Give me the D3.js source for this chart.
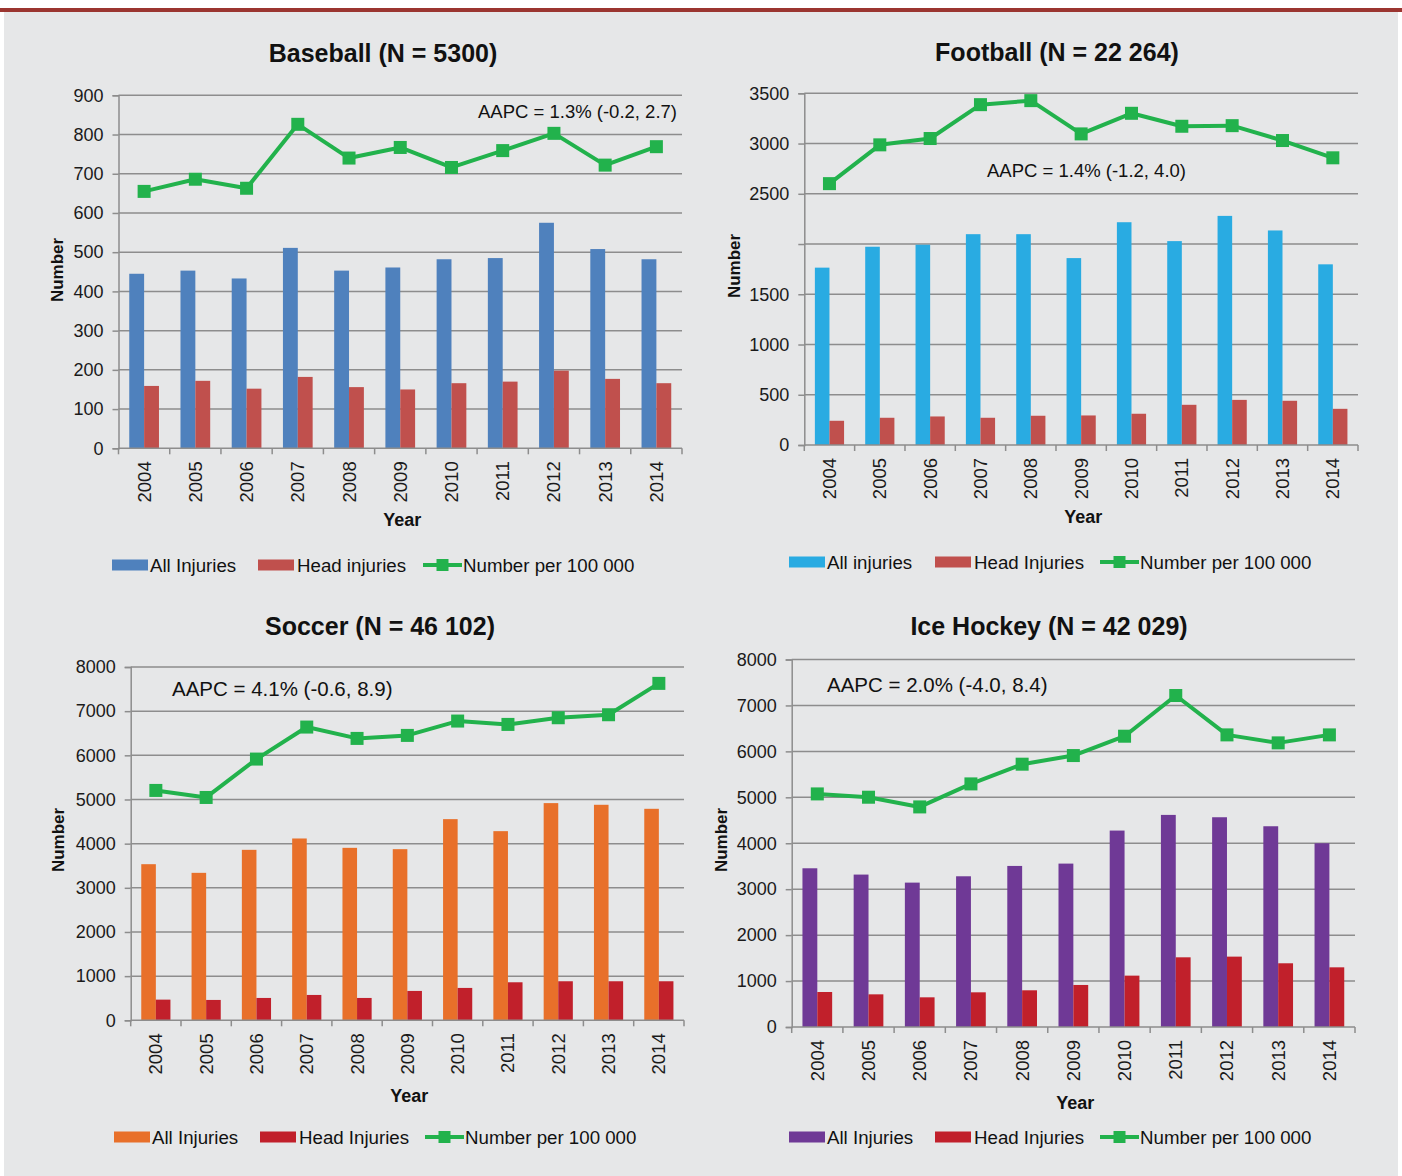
<!DOCTYPE html>
<html>
<head>
<meta charset="utf-8">
<script src="https://cdn.jsdelivr.net/npm/d3@7"></script>
<style>
  body { margin: 0; background: #fff; }
  svg { display: block; font-family: "Liberation Sans", Arial, sans-serif; }
</style>
</head>
<body>
<svg id="chart"></svg>
<script>
// ---- data ----
const years = ["2004", "2005", "2006", "2007", "2008", "2009", "2010", "2011", "2012", "2013", "2014"];

const baseballAll  = [445, 453, 433, 511, 453, 461, 482, 485, 575, 508, 482];
const baseballHead = [159, 172, 152, 182, 156, 150, 166, 170, 198, 177, 166];
const baseballRate = [655, 686, 663, 826, 740, 767, 716, 759, 803, 722, 769];
const baseballTicks = [0, 100, 200, 300, 400, 500, 600, 700, 800, 900];

const footballAll  = [1765, 1973, 1993, 2098, 2098, 1860, 2217, 2029, 2280, 2135, 1798];
const footballHead = [241, 271, 284, 271, 291, 294, 311, 400, 449, 440, 360];
const footballRate = [2601, 2987, 3050, 3387, 3427, 3096, 3301, 3172, 3178, 3030, 2858];
const footballTicks = [0, 500, 1000, 1500, 2000, 2500, 3000, 3500];
const footballTickLabels = ["0", "500", "1000", "1500", "", "2500", "3000", "3500"];

const soccerAll  = [3535, 3339, 3860, 4117, 3905, 3875, 4555, 4283, 4918, 4880, 4789];
const soccerHead = [468, 461, 506, 574, 506, 665, 733, 861, 884, 884, 884];
const soccerRate = [5205, 5046, 5915, 6640, 6383, 6451, 6776, 6700, 6851, 6919, 7629];
const soccerTicks = [0, 1000, 2000, 3000, 4000, 5000, 6000, 7000, 8000];

const hockeyAll  = [3455, 3318, 3143, 3281, 3506, 3557, 4276, 4617, 4566, 4370, 4000];
const hockeyHead = [762, 711, 646, 755, 799, 915, 1118, 1517, 1532, 1387, 1299];
const hockeyRate = [5074, 5002, 4791, 5292, 5721, 5909, 6330, 7216, 6359, 6185, 6359];
const hockeyTicks = [0, 1000, 2000, 3000, 4000, 5000, 6000, 7000, 8000];

const legendLabels = {
  baseball: ["All Injuries", "Head injuries", "Number per 100 000"],
  football: ["All injuries", "Head Injuries", "Number per 100 000"],
  soccer:   ["All Injuries", "Head Injuries", "Number per 100 000"],
  hockey:   ["All Injuries", "Head Injuries", "Number per 100 000"]
};

// ---- layout / styles ----
const W = 1402, H = 1176;
const green = "#22b24c";
const gridColor = "#8d8d8d";

const panels = [
  { title: "Baseball (N = 5300)", all: baseballAll, head: baseballHead, rate: baseballRate,
    ticks: baseballTicks, tickLabels: null, legend: legendLabels.baseball,
    allColor: "#4f81bd", headColor: "#c0504d",
    left: 118.5, right: 682, top: 95.3, bottom: 448.3,
    titleX: 383, titleY: 62, numX: 57, numY: 270, yearY: 526, legendX: 112, legendY: 565,
    aapc: "AAPC = 1.3% (-0.2, 2.7)", aapcSize: 18.5, aapcX: 677, aapcY: 118, aapcAnchor: "end" },
  { title: "Football (N = 22 264)", all: footballAll, head: footballHead, rate: footballRate,
    ticks: footballTicks, tickLabels: footballTickLabels, legend: legendLabels.football,
    allColor: "#29abe2", headColor: "#c0504d",
    left: 804.3, right: 1358, top: 93.3, bottom: 445,
    titleX: 1057, titleY: 61, numX: 734, numY: 266, yearY: 523, legendX: 789, legendY: 562,
    aapc: "AAPC = 1.4% (-1.2, 4.0)", aapcSize: 18.5, aapcX: 987, aapcY: 177, aapcAnchor: "start" },
  { title: "Soccer (N = 46 102)", all: soccerAll, head: soccerHead, rate: soccerRate,
    ticks: soccerTicks, tickLabels: null, legend: legendLabels.soccer,
    allColor: "#e8702a", headColor: "#c1202b",
    left: 130.7, right: 684, top: 667, bottom: 1020.3,
    titleX: 380, titleY: 635, numX: 58, numY: 840, yearY: 1102, legendX: 114, legendY: 1137,
    aapc: "AAPC = 4.1% (-0.6, 8.9)", aapcSize: 20.5, aapcX: 172, aapcY: 696, aapcAnchor: "start" },
  { title: "Ice Hockey (N = 42 029)", all: hockeyAll, head: hockeyHead, rate: hockeyRate,
    ticks: hockeyTicks, tickLabels: null, legend: legendLabels.hockey,
    allColor: "#6f3996", headColor: "#c1202b",
    left: 791.7, right: 1355, top: 659.5, bottom: 1027,
    titleX: 1049, titleY: 635, numX: 721, numY: 840, yearY: 1109, legendX: 789, legendY: 1137,
    aapc: "AAPC = 2.0% (-4.0, 8.4)", aapcSize: 20.5, aapcX: 827, aapcY: 692, aapcAnchor: "start" }
];

const svg = d3.select("#chart").attr("width", W).attr("height", H);

svg.append("rect").attr("x", 4).attr("y", 11).attr("width", W - 8).attr("height", H - 11)
  .attr("fill", "#e6e7e8");
svg.append("rect").attr("x", 0).attr("y", 8).attr("width", W).attr("height", 4)
  .attr("fill", "#9b3530");

function drawPanel(p) {
  const g = svg.append("g");

  const x = d3.scaleBand().domain(years).range([p.left, p.right]);
  const y = d3.scaleLinear().domain([0, d3.max(p.ticks)]).range([p.bottom, p.top]);
  const bw = x.bandwidth();
  const barW = bw * 0.29;

  // gridlines
  g.append("g")
    .selectAll("line")
    .data(p.ticks.slice(1))
    .join("line")
      .attr("x1", p.left).attr("x2", p.right)
      .attr("y1", d => y(d)).attr("y2", d => y(d))
      .attr("stroke", gridColor).attr("stroke-width", 1.5);

  // y axis
  const yAxis = d3.axisLeft(y).tickValues(p.ticks).tickSize(6).tickPadding(9)
    .tickFormat((d, i) => p.tickLabels ? p.tickLabels[i] : String(d));
  const yg = g.append("g").attr("transform", `translate(${p.left},0)`).call(yAxis);
  yg.select(".domain").attr("stroke", gridColor).attr("stroke-width", 1.5);
  yg.selectAll(".tick line").attr("stroke", gridColor).attr("stroke-width", 1.5);
  yg.selectAll(".tick text").attr("font-size", 18).attr("fill", "#1a1a1a")
    .attr("font-family", "'Liberation Sans', Arial, sans-serif");

  // bars
  g.append("g").selectAll("rect")
    .data(years)
    .join("rect")
      .attr("x", d => x(d) + bw / 2 - barW)
      .attr("y", (d, i) => y(p.all[i]))
      .attr("width", barW)
      .attr("height", (d, i) => y(0) - y(p.all[i]))
      .attr("fill", p.allColor);

  g.append("g").selectAll("rect")
    .data(years)
    .join("rect")
      .attr("x", d => x(d) + bw / 2)
      .attr("y", (d, i) => y(p.head[i]))
      .attr("width", barW)
      .attr("height", (d, i) => y(0) - y(p.head[i]))
      .attr("fill", p.headColor);

  // x axis
  const xAxis = d3.axisBottom(x).tickSize(0).tickPadding(0);
  const xg = g.append("g").attr("transform", `translate(0,${p.bottom})`).call(xAxis);
  xg.select(".domain").remove();
  xg.append("line").attr("x1", p.left).attr("x2", p.right)
    .attr("stroke", gridColor).attr("stroke-width", 1.5);
  xg.selectAll(".sep")
    .data(d3.range(years.length + 1))
    .join("line")
      .attr("class", "sep")
      .attr("x1", i => p.left + i * bw).attr("x2", i => p.left + i * bw)
      .attr("y1", 0).attr("y2", 6)
      .attr("stroke", gridColor).attr("stroke-width", 1.5);
  xg.selectAll(".tick text")
    .attr("font-size", 18.5).attr("fill", "#1a1a1a")
    .attr("font-family", "'Liberation Sans', Arial, sans-serif")
    .attr("text-anchor", "end")
    .attr("transform", "translate(0,13) rotate(-90)")
    .attr("x", 0).attr("y", 0).attr("dy", "0.35em");

  // rate line
  const pts = years.map((d, i) => [x(d) + bw / 2, y(p.rate[i])]);
  g.append("path")
    .attr("d", d3.line()(pts))
    .attr("fill", "none").attr("stroke", green).attr("stroke-width", 4)
    .attr("stroke-linejoin", "round");
  g.append("g").selectAll("rect")
    .data(pts)
    .join("rect")
      .attr("x", d => d[0] - 6.5).attr("y", d => d[1] - 6.5)
      .attr("width", 13).attr("height", 13)
      .attr("fill", green);

  // texts
  g.append("text").attr("x", p.titleX).attr("y", p.titleY)
    .attr("text-anchor", "middle").attr("font-size", 25).attr("font-weight", "bold")
    .attr("fill", "#111").text(p.title);
  g.append("text")
    .attr("transform", `translate(${p.numX},${p.numY}) rotate(-90)`)
    .attr("text-anchor", "middle").attr("dy", "0.35em")
    .attr("font-size", 17).attr("font-weight", "bold").attr("fill", "#111").text("Number");
  g.append("text").attr("x", (p.left + p.right) / 2 + 2).attr("y", p.yearY)
    .attr("text-anchor", "middle").attr("font-size", 18).attr("font-weight", "bold")
    .attr("fill", "#111").text("Year");
  g.append("text").attr("x", p.aapcX).attr("y", p.aapcY)
    .attr("text-anchor", p.aapcAnchor).attr("font-size", p.aapcSize)
    .attr("fill", "#111").text(p.aapc);

  // legend
  const lg = g.append("g").attr("transform", `translate(${p.legendX},${p.legendY})`);
  lg.selectAll("text").attr("font-size", 18.7);
  lg.append("rect").attr("x", 0).attr("y", -5.5).attr("width", 36).attr("height", 11).attr("fill", p.allColor);
  lg.append("text").attr("x", 38).attr("dy", "0.35em").attr("font-size", 18.7).attr("fill", "#111").text(p.legend[0]);
  lg.append("rect").attr("x", 146).attr("y", -5.5).attr("width", 36).attr("height", 11).attr("fill", p.headColor);
  lg.append("text").attr("x", 185).attr("dy", "0.35em").attr("font-size", 18.7).attr("fill", "#111").text(p.legend[1]);
  lg.append("line").attr("x1", 311).attr("x2", 350).attr("y1", 0).attr("y2", 0)
    .attr("stroke", green).attr("stroke-width", 4);
  lg.append("rect").attr("x", 324.5).attr("y", -6).attr("width", 12).attr("height", 12).attr("fill", green);
  lg.append("text").attr("x", 351).attr("dy", "0.35em").attr("font-size", 18.7).attr("fill", "#111").text(p.legend[2]);
}

panels.forEach(drawPanel);
</script>
</body>
</html>
